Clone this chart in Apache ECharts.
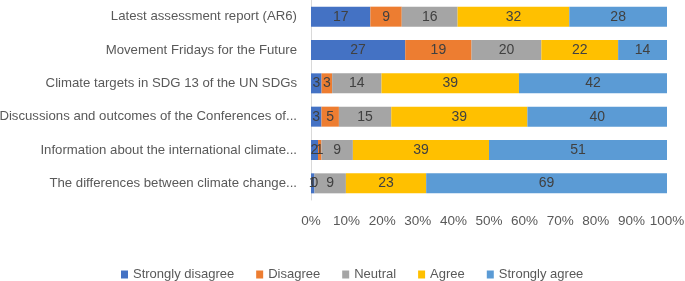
<!doctype html>
<html>
<head>
<meta charset='utf-8'>
<style>
html, body { margin: 0; padding: 0; background: #fff; }
#chart { width: 685px; height: 281px; }
</style>
</head>
<body>
<div id="chart"></div>
<script src="https://cdn.jsdelivr.net/npm/echarts@6/dist/echarts.min.js"></script>
<script>
// categories, bottom to top (category axis draws first item at the bottom)
const categories = [
    'The differences between climate change...',
    'Information about the international climate...',
    'Discussions and outcomes of the Conferences of...',
    'Climate targets in SDG 13 of the UN SDGs',
    'Movement Fridays for the Future',
    'Latest assessment report (AR6)'
];
const seriesNames = ['Strongly disagree', 'Disagree', 'Neutral', 'Agree', 'Strongly agree'];
const stronglyDisagree = [1, 2, 3, 3, 27, 17];
const disagree = [0, 1, 5, 3, 19, 9];
const neutral = [9, 9, 15, 14, 20, 16];
const agree = [23, 39, 39, 39, 22, 32];
const stronglyAgree = [69, 51, 40, 42, 14, 28];
const colors = ['#4472C4', '#ED7D31', '#A5A5A5', '#FFC000', '#5B9BD5'];

const all = [stronglyDisagree, disagree, neutral, agree, stronglyAgree];
// 100% stacked: each row scaled to its total, label keeps the raw value
const totals = categories.map((c, i) => all.reduce((s, arr) => s + arr[i], 0));

const font = "'Liberation Sans', sans-serif";

const chart = echarts.init(document.getElementById('chart'));
chart.setOption({
    animation: false,
    color: colors,
    grid: { left: 311, right: 18, top: 0, bottom: 81, outerBoundsMode: 'none', containLabel: false },
    legend: {
        top: 263,
        left: 116,
        itemWidth: 7,
        itemHeight: 8,
        itemGap: 22,
        icon: 'rect',
        textStyle: { color: '#595959', fontSize: 13, fontFamily: font }
    },
    xAxis: {
        type: 'value',
        min: 0,
        max: 100,
        interval: 10,
        axisLabel: { formatter: '{value}%', color: '#595959', fontSize: 13.5, fontFamily: font, margin: 14 },
        splitLine: { show: false },
        axisLine: { show: false },
        axisTick: { show: false }
    },
    yAxis: {
        type: 'category',
        data: categories,
        axisLine: { show: true, lineStyle: { color: '#D9D9D9' } },
        axisTick: { show: false },
        axisLabel: { color: '#595959', fontSize: 13.2, fontFamily: font, margin: 14 }
    },
    series: seriesNames.map((name, k) => ({
        name: name,
        type: 'bar',
        stack: 'total',
        barWidth: '60%',
        data: all[k].map((v, i) => ({ value: v / totals[i] * 100, raw: v })),
        label: {
            show: true,
            color: '#404040',
            fontSize: 14,
            fontFamily: font,
            formatter: p => p.data.raw
        }
    }))
});
</script>
</body>
</html>
